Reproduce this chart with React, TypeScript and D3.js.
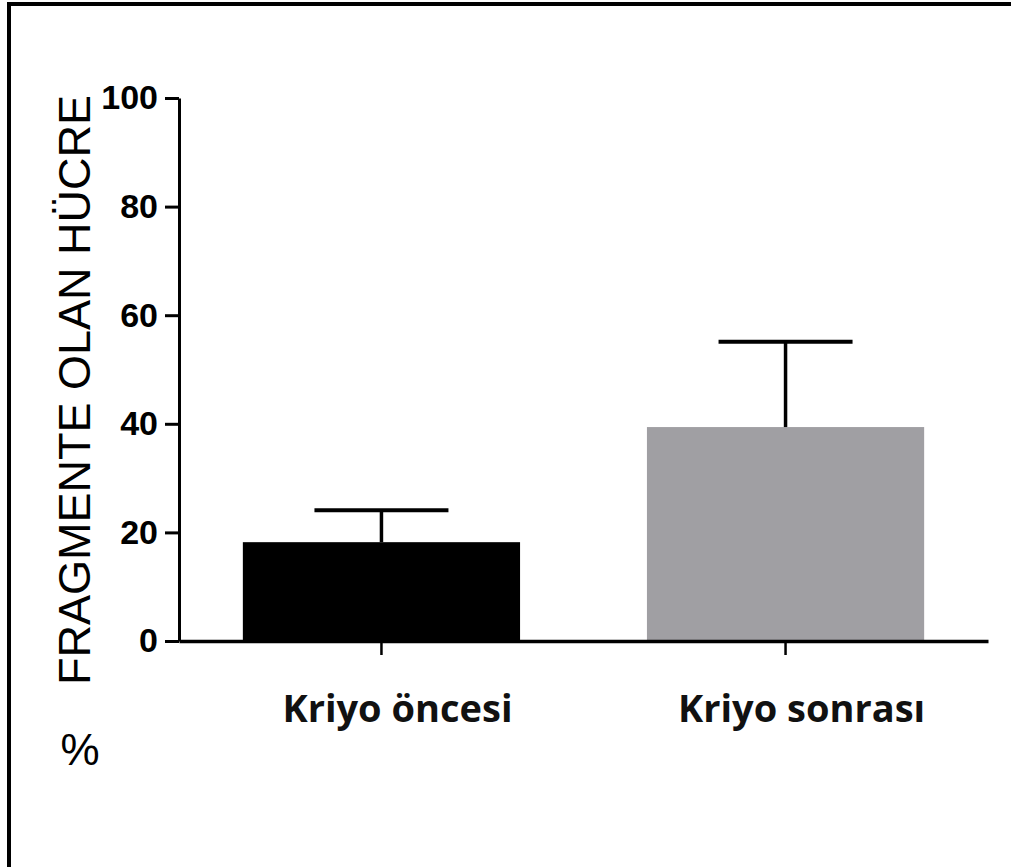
import React, { useEffect, useRef } from 'react'
import * as d3 from 'd3'

// Data
const categories = ['Kriyo öncesi', 'Kriyo sonrası']
const means = [18.2, 39.4]
const sds = [5.9, 15.7]
const barColors = ['#000000', '#a09fa3']
const yTicks = [0, 20, 40, 60, 80, 100]

const width = 1011
const height = 867

export default function App() {
    const ref = useRef<SVGSVGElement>(null)

    useEffect(() => {
        const svg = d3.select(ref.current)
        svg.selectAll('*').remove()

        // Frame (left and top only)
        svg.append('line')
            .attr('x1', 9).attr('x2', 9)
            .attr('y1', 2).attr('y2', height)
            .style('stroke', '#000').style('stroke-width', 4)
        svg.append('line')
            .attr('x1', 7).attr('x2', width)
            .attr('y1', 4).attr('y2', 4)
            .style('stroke', '#000').style('stroke-width', 4)

        // Scales
        const xScale = d3.scaleBand()
            .domain(categories)
            .range([179, 988])
            .paddingInner(0.314)
            .paddingOuter(0.158)
        const yScale = d3.scaleLinear()
            .domain([0, 100])
            .range([641, 98])

        // Bars
        categories.forEach((c, i) => {
            const x = xScale(c) as number
            svg.append('rect')
                .attr('x', x)
                .attr('width', xScale.bandwidth())
                .attr('y', yScale(means[i]))
                .attr('height', yScale(0) - yScale(means[i]))
                .style('fill', barColors[i])
        })

        // Error bars (upper only)
        categories.forEach((c, i) => {
            const cx = (xScale(c) as number) + xScale.bandwidth() / 2
            const top = yScale(means[i] + sds[i])
            svg.append('line')
                .attr('x1', cx).attr('x2', cx)
                .attr('y1', yScale(means[i])).attr('y2', top)
                .style('stroke', '#000').style('stroke-width', 3.5)
            svg.append('line')
                .attr('x1', cx - 67).attr('x2', cx + 67)
                .attr('y1', top).attr('y2', top)
                .style('stroke', '#000').style('stroke-width', 4)
        })

        // Y axis
        const yAxis = d3.axisLeft(yScale)
            .tickValues(yTicks)
            .tickSize(14)
            .tickSizeOuter(0)
            .tickPadding(7)
        const gy = svg.append('g')
            .attr('transform', 'translate(179,0)')
            .call(yAxis)
        gy.select('.domain').style('stroke-width', 3)
        gy.selectAll('.tick line').style('stroke-width', 3)
        gy.selectAll('.tick text')
            .attr('font-family', 'Liberation Sans, Arial, sans-serif')
            .attr('font-weight', 'bold')
            .attr('font-size', '34px')
            .attr('fill', '#000')

        // X axis
        const xAxis = d3.axisBottom(xScale)
            .tickSize(14)
            .tickSizeOuter(0)
            .tickPadding(40)
        const gx = svg.append('g')
            .attr('transform', 'translate(0,641)')
            .call(xAxis)
        gx.select('.domain').style('stroke-width', 3.5)
        gx.selectAll('.tick line').style('stroke-width', 2.5)
        gx.selectAll('.tick text')
            .attr('dx', 16)
            .attr('font-family', 'Open Sans, sans-serif')
            .attr('font-weight', 'bold')
            .attr('font-size', '38px')
            .attr('fill', '#111')

        // Y axis title
        svg.append('text')
            .text('FRAGMENTE OLAN HÜCRE')
            .attr('transform', 'translate(90,390) rotate(-90)')
            .attr('text-anchor', 'middle')
            .attr('font-family', 'Liberation Sans, Arial, sans-serif')
            .attr('font-size', '45px')
            .attr('fill', '#000')

        svg.append('text')
            .text('%')
            .attr('x', 80)
            .attr('y', 765)
            .attr('text-anchor', 'middle')
            .attr('font-family', 'Liberation Sans, Arial, sans-serif')
            .attr('font-size', '44px')
            .attr('fill', '#000')
    }, [])

    return (
        <svg
            ref={ref}
            width={width}
            height={height}
            style={{ position: 'absolute', left: 0, top: 0, background: '#fff' }}
        />
    )
}
